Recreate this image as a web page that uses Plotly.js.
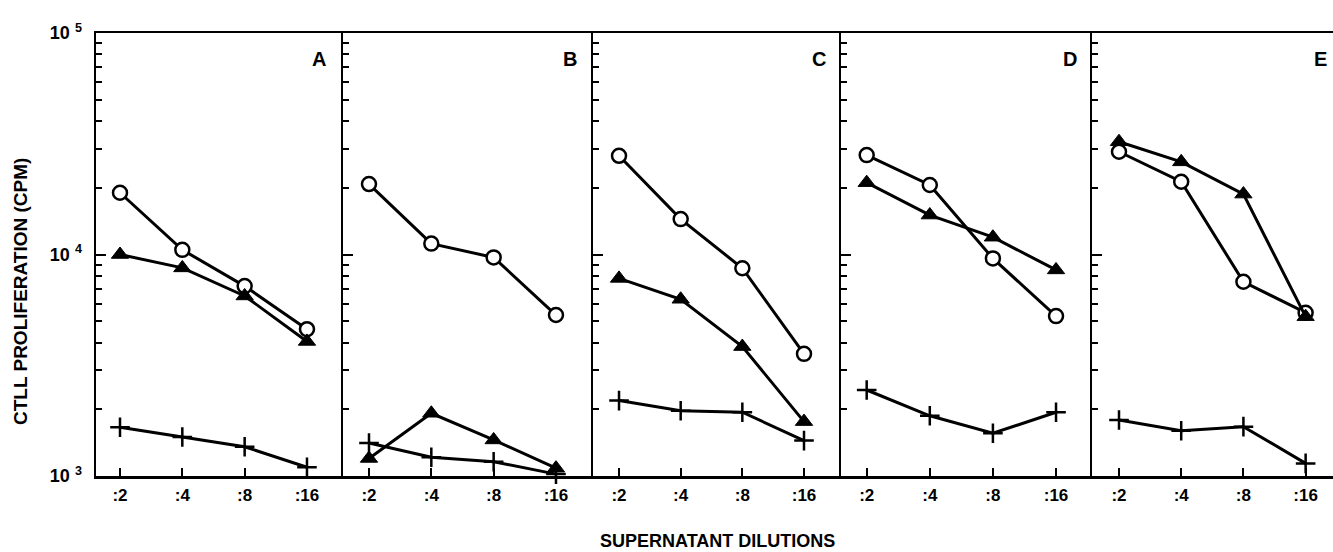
<!DOCTYPE html>
<html>
<head>
<meta charset="utf-8">
<script src="https://cdn.plot.ly/plotly-3.0.1.min.js"></script>
<style>
  html, body { margin: 0; padding: 0; background: #fff; }
  #chart { width: 1333px; height: 552px; }
</style>
</head>
<body>
<div id="chart"></div>
<script>
// ---- data ----
const dilutions = [':2', ':4', ':8', ':16'];
const panelLabels = ['A', 'B', 'C', 'D', 'E'];

const A_circle = [19000, 10500, 7200, 4600];
const A_tri    = [10000, 8700, 6500, 4050];
const A_plus   = [1660, 1500, 1355, 1095];

const B_circle = [20800, 11200, 9700, 5330];
const B_tri    = [1200, 1920, 1455, 1085];
const B_plus   = [1410, 1215, 1160, 1020];

const C_circle = [27900, 14450, 8670, 3560];
const C_tri    = [7800, 6280, 3840, 1760];
const C_plus   = [2190, 1970, 1940, 1445];

const D_circle = [28100, 20600, 9600, 5270];
const D_tri    = [21100, 15070, 11970, 8520];
const D_plus   = [2445, 1870, 1560, 1940];

const E_circle = [29100, 21300, 7530, 5460];
const E_tri    = [32300, 26200, 18740, 5240];
const E_plus   = [1790, 1600, 1670, 1140];

const yMajorVals = [1000, 10000, 100000];
const yMajorText = ['<b>10 <sup>3</sup></b>', '<b>10 <sup>4</sup></b>', '<b>10 <sup>5</sup></b>'];
const yMinorVals = [2000, 3000, 4000, 5000, 6000, 7000, 8000, 9000,
                    20000, 30000, 40000, 50000, 60000, 70000, 80000, 90000];

const panels = [
  {circle: A_circle, tri: A_tri, plus: A_plus},
  {circle: B_circle, tri: B_tri, plus: B_plus},
  {circle: C_circle, tri: C_tri, plus: C_plus},
  {circle: D_circle, tri: D_tri, plus: D_plus},
  {circle: E_circle, tri: E_tri, plus: E_plus}
];

// ---- layout geometry ----
const W = 1333, H = 552;
const ML = 96, MR = 0, MT = 33, MB = 76;
const plotH = H - MT - MB;
const boundsPx = [96, 343, 593, 841, 1092, 1333];
const plotW = W - ML - MR;
const domains = [];
for (let i = 0; i < 5; i++) {
  domains.push([(boundsPx[i] - ML) / plotW, (boundsPx[i + 1] - ML) / plotW]);
}
const xRanges = [[-0.385, 3.578], [-0.417, 3.594], [-0.422, 3.6], [-0.407, 3.57], [-0.434, 3.44]];
const labelInsetPx = [15, 14, 13, 13, 4];

const FONT = 'Liberation Sans, Arial, Helvetica, sans-serif';
const LW = 3;

const traces = [];
panels.forEach((p, i) => {
  const xa = 'x' + (i === 0 ? '' : (i + 1));
  const ya = 'y' + (i === 0 ? '' : (i + 1));
  traces.push({
    x: dilutions, y: p.circle, xaxis: xa, yaxis: ya, type: 'scatter', mode: 'lines+markers',
    line: {color: '#000', width: LW},
    marker: {symbol: 'circle', size: 14, color: '#fff', line: {color: '#000', width: 2.5}},
    showlegend: false, cliponaxis: false
  });
  traces.push({
    x: dilutions, y: p.tri, xaxis: xa, yaxis: ya, type: 'scatter', mode: 'lines+markers',
    line: {color: '#000', width: LW},
    marker: {symbol: 'triangle-up', size: 15, color: '#000', line: {color: '#000', width: 1}},
    showlegend: false, cliponaxis: false
  });
  traces.push({
    x: dilutions, y: p.plus, xaxis: xa, yaxis: ya, type: 'scatter', mode: 'lines+markers',
    line: {color: '#000', width: LW},
    marker: {symbol: 'cross-thin', size: 14, color: '#000', line: {color: '#000', width: 2.5}},
    showlegend: false, cliponaxis: false
  });
});

const layout = {
  width: W, height: H,
  margin: {l: ML, r: MR, t: MT, b: MB, pad: 0},
  paper_bgcolor: '#fff', plot_bgcolor: '#fff',
  showlegend: false,
  font: {family: FONT, color: '#000'},
  annotations: []
};

for (let i = 0; i < 5; i++) {
  const sfx = i === 0 ? '' : String(i + 1);
  layout['xaxis' + sfx] = {
    domain: domains[i], anchor: 'y' + sfx,
    type: 'category', categoryorder: 'array', categoryarray: dilutions,
    tickmode: 'array', tickvals: dilutions, ticktext: dilutions.map(d => '<b>' + d + '</b>'),
    range: xRanges[i],
    showline: true, linecolor: '#000', linewidth: 2.5, mirror: true,
    ticks: 'inside', ticklen: 8, tickwidth: 2, tickcolor: '#000',
    showgrid: false, zeroline: false,
    tickfont: {family: FONT, size: 17, weight: 700, color: '#000'},
    ticklabelstandoff: 2,
    fixedrange: true
  };
  layout['yaxis' + sfx] = {
    domain: [0, 1], anchor: 'x' + sfx,
    type: 'log', range: [3, 5],
    tickmode: 'array', tickvals: yMajorVals, ticktext: yMajorText,
    showticklabels: i === 0,
    ticks: 'inside', ticklen: 10, tickwidth: 2, tickcolor: '#000',
    minor: {tickmode: 'array', tickvals: yMinorVals, ticks: 'inside', ticklen: 6, tickwidth: 2, tickcolor: '#000', showgrid: false},
    showline: true, linecolor: '#000', linewidth: 2.5,
    showgrid: false, zeroline: false,
    tickfont: {family: FONT, size: 18, weight: 700, color: '#000'},
    ticklabelstandoff: 8,
    fixedrange: true
  };
  layout.annotations.push({
    xref: 'paper', yref: 'paper',
    x: domains[i][1] - labelInsetPx[i] / plotW, y: 1 - 26 / plotH,
    xanchor: 'right', yanchor: 'middle',
    text: '<b>' + panelLabels[i] + '</b>', showarrow: false,
    font: {family: FONT, size: 20, weight: 700, color: '#000'}
  });
}

// axis titles
layout.annotations.push({
  xref: 'paper', yref: 'paper',
  x: (598 - ML) / plotW, y: -(541 - (H - MB)) / plotH,
  xanchor: 'left', yanchor: 'middle',
  text: '<b>SUPERNATANT DILUTIONS</b>', showarrow: false,
  font: {family: FONT, size: 18, weight: 700, color: '#000'}
});
layout.annotations.push({
  xref: 'paper', yref: 'paper',
  x: -(ML - 20) / plotW, y: 1 - (292 - MT) / plotH,
  xanchor: 'center', yanchor: 'middle', textangle: -90,
  text: '<b>CTLL PROLIFERATION (CPM)</b>', showarrow: false,
  font: {family: FONT, size: 19, weight: 700, color: '#000'}
});

Plotly.newPlot('chart', traces, layout, {staticPlot: true, displayModeBar: false});
</script>
</body>
</html>
